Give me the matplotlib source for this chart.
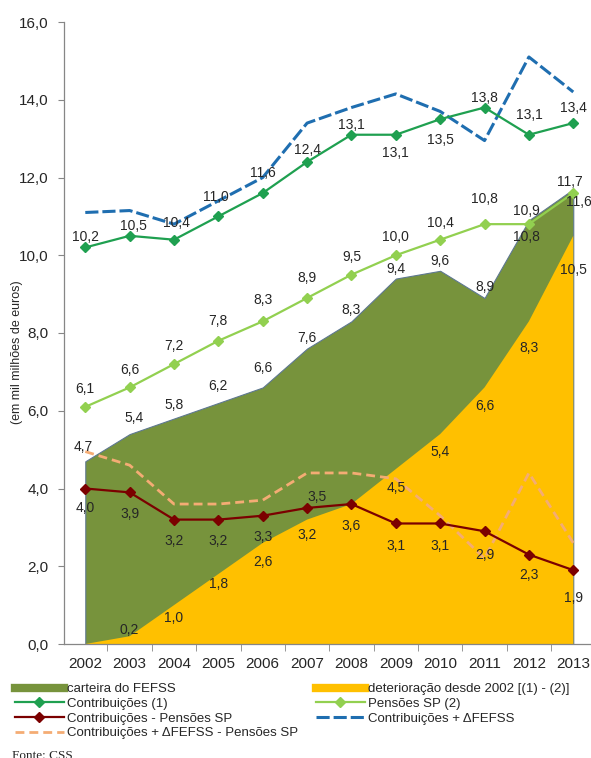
import matplotlib
matplotlib.use("Agg")
import matplotlib.pyplot as plt
from matplotlib.lines import Line2D
import numpy as np

plt.rcParams['font.family'] = ['Liberation Sans', 'DejaVu Sans']

# dados (mil milhões de euros)
anos = ['2002', '2003', '2004', '2005', '2006', '2007', '2008', '2009', '2010', '2011', '2012', '2013']
fefss = [4.7, 5.4, 5.8, 6.2, 6.6, 7.6, 8.3, 9.4, 9.6, 8.9, 10.9, 11.7]
deterioracao = [0.0, 0.2, 1.0, 1.8, 2.6, 3.2, 3.6, 4.5, 5.4, 6.6, 8.3, 10.5]
contribuicoes = [10.2, 10.5, 10.4, 11.0, 11.6, 12.4, 13.1, 13.1, 13.5, 13.8, 13.1, 13.4]
pensoes = [6.1, 6.6, 7.2, 7.8, 8.3, 8.9, 9.5, 10.0, 10.4, 10.8, 10.8, 11.6]
contrib_menos_pens = [4.0, 3.9, 3.2, 3.2, 3.3, 3.5, 3.6, 3.1, 3.1, 2.9, 2.3, 1.9]
contrib_mais_dfefss = [11.1, 11.15, 10.8, 11.4, 12.0, 13.4, 13.8, 14.15, 13.7, 12.95, 15.1, 14.2]
contrib_dfefss_pens = [4.95, 4.6, 3.6, 3.6, 3.7, 4.4, 4.4, 4.25, 3.3, 2.2, 4.4, 2.6]

# posicao das etiquetas (pixels relativos ao ponto); None = sem etiqueta
off_contrib = [(0, 10), (4, 10), (2, 17), (-2, 19), (0, 20), (0, 12), (0, 10), (0, -18), (0, -21), (0, 10), (0, 20), (0, 15)]
off_pens = [(0, 18), (0, 17), (0, 18), (0, 20), (0, 21), (0, 20), (0, 18), (0, 18), (0, 17), (0, 25), (-2, -13), (6, -9)]
off_fefss = [(-2, 14), (4, 16), (0, 14), (0, 17), (0, 19), (0, 11), (0, 11), (0, 10), (0, 10), (0, 11), (-3, 9), (-3, 7)]
off_deter = [None, (0, 6), (0, -13), (0, -10), (0, -19), (0, -15), None, (0, -19), (0, -18), (0, -19), (0, -27), (0, -34)]
off_red = [(0, -20), (0, -22), (0, -21), (0, -21), (0, -21), (10, 11), (0, -22), (0, -23), (0, -23), (0, -24), (0, -20), (0, -28)]

c_fefss = '#77933C'
c_deter = '#FFC000'
c_contrib = '#1FA050'
c_pens = '#92D050'
c_red = '#7B0000'
c_blue = '#1F6EB0'
c_orange = '#F4AC74'
c_txt = '#262626'

fig = plt.figure(figsize=(5.91, 7.58), dpi=100)
ax = fig.add_axes([64 / 591, 114 / 758, 527 / 591, 622 / 758])

x = np.arange(len(anos))

ax.fill_between(x, 0, fefss, facecolor=c_fefss, edgecolor='#5E7890', linewidth=0.8, zorder=1)
ax.fill_between(x, 0, deterioracao, facecolor=c_deter, edgecolor='none', zorder=2)

ax.plot(x, contrib_dfefss_pens, color=c_orange, lw=2.0, dashes=(3.2, 1.8), zorder=3)
ax.plot(x, contrib_mais_dfefss, color=c_blue, lw=2.2, dashes=(4.3, 1.3), zorder=4)
ax.plot(x, contribuicoes, color=c_contrib, lw=1.6, marker='D', ms=5, zorder=5)
ax.plot(x, pensoes, color=c_pens, lw=1.6, marker='D', ms=5, zorder=5)
ax.plot(x, contrib_menos_pens, color=c_red, lw=1.6, marker='D', ms=5, zorder=5)


def etiquetas(vals, offs):
    for i, (v, o) in enumerate(zip(vals, offs)):
        if o is None:
            continue
        ax.annotate(('%.1f' % v).replace('.', ','), (x[i], v), xytext=o,
                    textcoords='offset pixels', ha='center', va='center',
                    fontsize=10, color=c_txt, zorder=6)


etiquetas(contribuicoes, off_contrib)
etiquetas(pensoes, off_pens)
etiquetas(fefss, off_fefss)
etiquetas(deterioracao, off_deter)
etiquetas(contrib_menos_pens, off_red)

ax.set_xlim(-0.48, 11.4)
ax.set_ylim(0, 16)
ax.set_yticks(np.arange(0, 17, 2))
ax.set_yticklabels([('%.1f' % t).replace('.', ',') for t in np.arange(0, 17, 2)])
ax.set_xticks(x)
ax.set_xticklabels(anos)
ax.set_xticks(x[:-1] + 0.5, minor=True)
ax.tick_params(axis='x', which='major', length=0, pad=9, labelsize=11, colors=c_txt)
ax.tick_params(axis='x', which='minor', length=5, color='#868686', direction='out')
ax.tick_params(axis='y', length=4, color='#868686', pad=7, labelsize=11, labelcolor=c_txt)
for s in ['top', 'right']:
    ax.spines[s].set_visible(False)
for s in ['left', 'bottom']:
    ax.spines[s].set_color('#868686')
    ax.spines[s].set_linewidth(0.9)

fig.text(17 / 591, 1 - 352 / 758, '(em mil milhões de euros)', rotation=90,
         ha='center', va='center', fontsize=9, color=c_txt)

handles = [
    Line2D([], [], color=c_fefss, lw=6),
    Line2D([], [], color=c_contrib, lw=1.6, marker='D', ms=5),
    Line2D([], [], color=c_red, lw=1.6, marker='D', ms=5),
    Line2D([], [], color=c_orange, lw=2.0, dashes=(3.2, 1.8)),
    Line2D([], [], color=c_deter, lw=6),
    Line2D([], [], color=c_pens, lw=1.6, marker='D', ms=5),
    Line2D([], [], color=c_blue, lw=2.2, dashes=(4.3, 1.3)),
]
labels = [
    'carteira do FEFSS',
    'Contribuições (1)',
    'Contribuições - Pensões SP',
    'Contribuições + ΔFEFSS - Pensões SP',
    'deterioração desde 2002 [(1) - (2)]',
    'Pensões SP (2)',
    'Contribuições + ΔFEFSS',
]
fig.legend(handles, labels, ncol=2, loc='upper left', bbox_to_anchor=(15 / 591, 1 - 683 / 758),
           frameon=False, fontsize=9.5, handlelength=3.7, handletextpad=0.25,
           labelspacing=0.19, columnspacing=1.35, borderpad=0, borderaxespad=0,
           labelcolor=c_txt)

fig.text(12 / 591, 1 - 756 / 758, 'Fonte: CSS', family='Liberation Serif',
         fontsize=9.5, ha='left', va='center', color=c_txt)

fig.savefig('out.png', dpi=100)
